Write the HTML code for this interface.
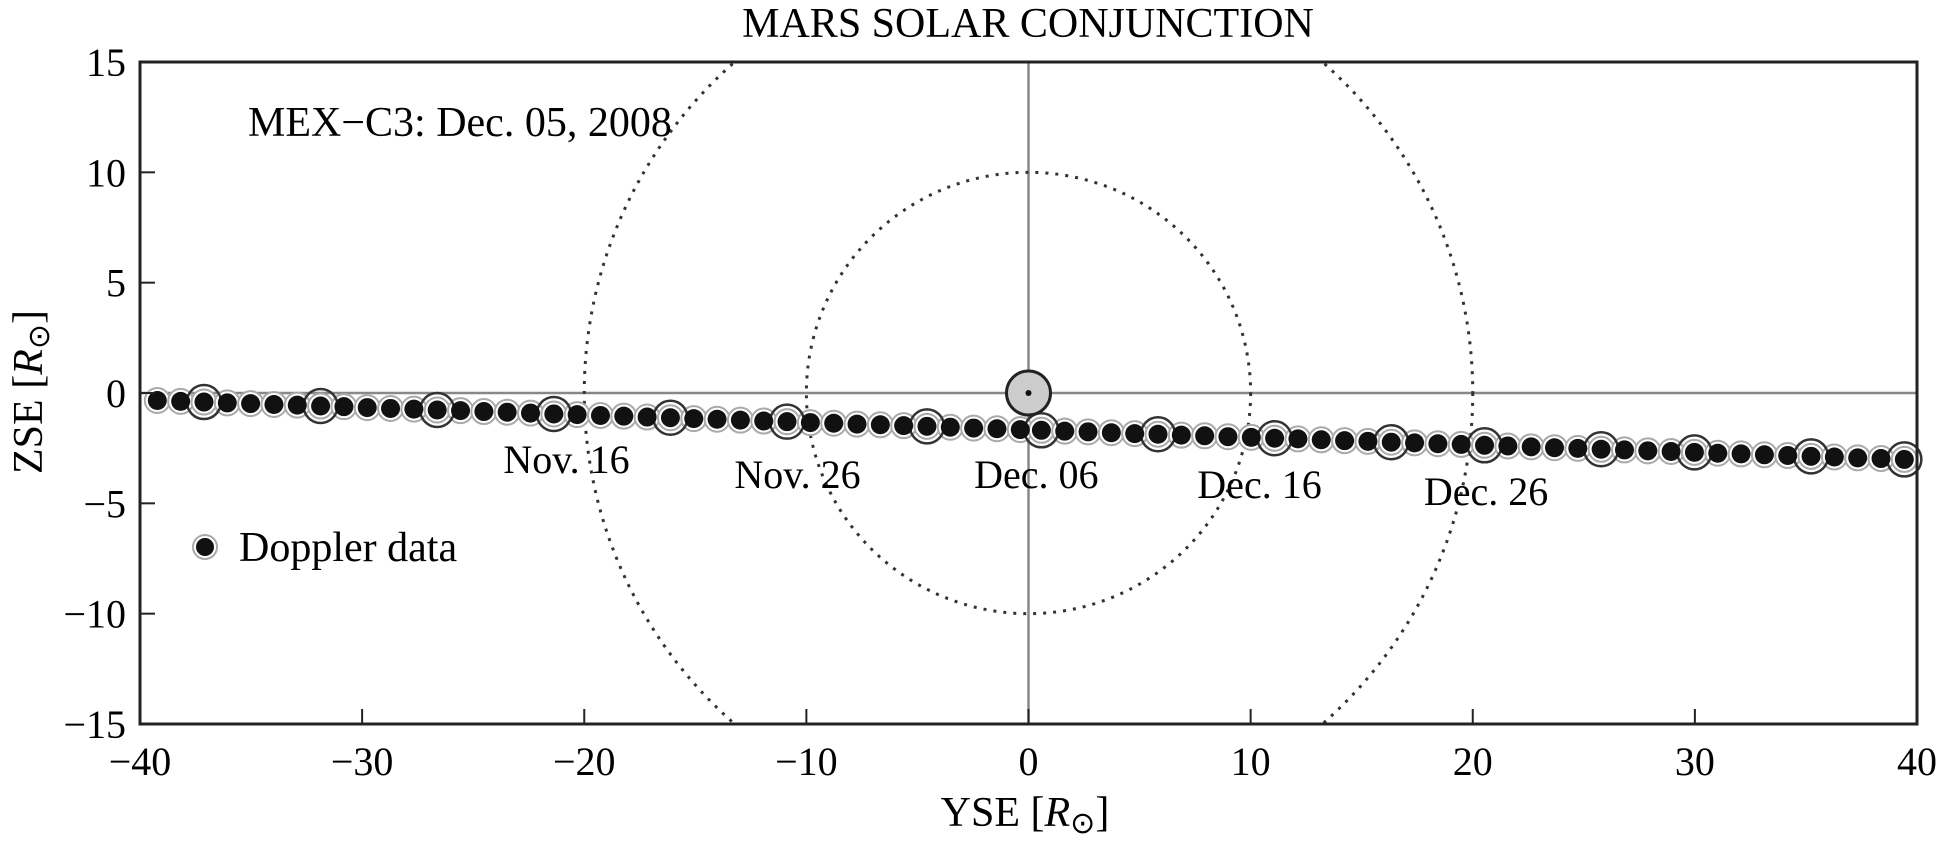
<!DOCTYPE html>
<html><head><meta charset="utf-8"><style>
html,body{margin:0;padding:0;background:#fff}
svg{display:block;font-family:"Liberation Serif",serif}
</style></head><body>
<svg id="chart" width="1941" height="847" viewBox="0 0 1941 847">
<text x="1028" y="37" font-size="42" text-anchor="middle">MARS SOLAR CONJUNCTION</text>
<g id="grid"></g>
<g id="circles"></g>
<g id="pts"></g>
<g id="axes"></g>
<text x="248" y="136" font-size="42">MEX−C3: Dec. 05, 2008</text>
<g id="dates" font-size="40" text-anchor="middle"></g>
<g>
<circle cx="205" cy="547" r="12" fill="none" stroke="#aaa" stroke-width="2"/>
<circle cx="205" cy="547" r="9" fill="#111"/>
<text x="239" y="561" font-size="42">Doppler data</text>
</g>
<text transform="translate(42,392) rotate(-90)" font-size="42" text-anchor="middle">ZSE [<tspan font-style="italic">R</tspan><tspan font-size="30" dy="7">⊙</tspan><tspan dy="-7">]</tspan></text>
<text x="1025" y="826" font-size="42" text-anchor="middle">YSE [<tspan font-style="italic">R</tspan><tspan font-size="30" dy="7">⊙</tspan><tspan dy="-7">]</tspan></text>
</svg>
<script>
const xs=[-39.22,-38.17,-37.12,-36.07,-35.02,-33.97,-32.92,-31.87,-30.82,-29.77,-28.72,-27.67,-26.62,-25.57,-24.52,-23.47,-22.42,-21.37,-20.32,-19.27,-18.22,-17.17,-16.12,-15.07,-14.02,-12.97,-11.92,-10.87,-9.82,-8.77,-7.72,-6.67,-5.62,-4.57,-3.52,-2.47,-1.42,-0.37,0.58,1.63,2.68,3.73,4.78,5.83,6.88,7.93,8.98,10.03,11.08,12.13,13.18,14.23,15.28,16.33,17.38,18.43,19.48,20.53,21.58,22.63,23.68,24.73,25.78,26.83,27.88,28.93,29.98,31.03,32.08,33.13,34.18,35.23,36.28,37.33,38.38,39.43];
const zs=[-0.34,-0.38,-0.41,-0.45,-0.48,-0.52,-0.55,-0.59,-0.62,-0.66,-0.70,-0.73,-0.77,-0.80,-0.84,-0.87,-0.91,-0.95,-0.98,-1.02,-1.05,-1.09,-1.12,-1.16,-1.19,-1.23,-1.27,-1.30,-1.34,-1.37,-1.41,-1.44,-1.48,-1.51,-1.55,-1.59,-1.62,-1.66,-1.69,-1.73,-1.76,-1.80,-1.84,-1.87,-1.91,-1.94,-1.98,-2.01,-2.05,-2.08,-2.12,-2.16,-2.19,-2.23,-2.26,-2.30,-2.33,-2.37,-2.40,-2.44,-2.48,-2.51,-2.55,-2.58,-2.62,-2.65,-2.69,-2.73,-2.76,-2.80,-2.83,-2.87,-2.90,-2.94,-2.97,-3.01];
const ringIdx=[2,7,12,17,22,27,33,38,43,48,53,57,62,66,71,75];
const xTicks=[-40,-30,-20,-10,0,10,20,30,40];
const yTicks=[15,10,5,0,-5,-10,-15];
const radii=[10,20];
const dateLabels=["Nov. 16","Nov. 26","Dec. 06","Dec. 16","Dec. 26"];
const dateX=[-20.8,-10.4,0.35,10.4,20.6];
const dateZ=[-3.62,-4.3,-4.3,-4.76,-5.08];
const NS='http://www.w3.org/2000/svg';
const L=140,R=1917,T=62,B=724;
const sx=v=>L+(v+40)/80*(R-L);
const sy=v=>393-v*(B-T)/30;
function mk(tag,at,parent){const e=document.createElementNS(NS,tag);for(const k in at)e.setAttribute(k,at[k]);parent.appendChild(e);return e;}
const grid=document.getElementById('grid'),circ=document.getElementById('circles'),pts=document.getElementById('pts'),axes=document.getElementById('axes'),dates=document.getElementById('dates');
let e=mk('line',{x1:L,x2:R,y1:sy(0),y2:sy(0),stroke:'#888','stroke-width':2.5},grid);


e=mk('line',{x1:sx(0),x2:sx(0),y1:T,y2:B,stroke:'#888','stroke-width':2.5},grid);


const cp=mk('clipPath',{id:'cp'},circ);mk('rect',{x:L,y:T,width:R-L,height:B-T},cp);
radii.forEach(r=>{
 const c=mk('ellipse',{cx:sx(0),cy:sy(0),rx:sx(r)-sx(0),ry:sy(0)-sy(r),fill:'none',stroke:'#333','stroke-width':3,'stroke-dasharray':'3 7','clip-path':'url(#cp)'},circ);
 
 
});
mk('polyline',{points:xs.map((x,i)=>sx(x)+','+sy(zs[i])).join(' '),fill:'none',stroke:'#555','stroke-width':2},pts);
xs.forEach((x,i)=>{
 const g=mk('circle',{cx:sx(x),cy:sy(zs[i]),r:12.5,fill:'#fff',stroke:'#aaa','stroke-width':2},pts);
 
 
});
ringIdx.forEach(i=>{
 const g=mk('circle',{cx:sx(xs[i]),cy:sy(zs[i]),r:17,fill:'none',stroke:'#333','stroke-width':2.5},pts);
 
 
});
xs.forEach((x,i)=>{
 const d=mk('circle',{cx:sx(x),cy:sy(zs[i]),r:9.5,fill:'#111'},pts);
 
 
});
e=mk('circle',{cx:sx(0),cy:sy(0),r:22,fill:'#ccc',stroke:'#222','stroke-width':3},pts);


mk('circle',{cx:sx(0),cy:sy(0),r:3,fill:'#111'},pts);
e=mk('rect',{x:L,y:T,width:R-L,height:B-T,fill:'none',stroke:'#222','stroke-width':3},axes);


xTicks.forEach(v=>{
 mk('line',{x1:sx(v),x2:sx(v),y1:B,y2:B-15,stroke:'#222','stroke-width':2},axes);
 const t=mk('text',{x:sx(v),y:775,'font-size':40,'text-anchor':'middle'},axes);
 t.textContent=(v<0?'−':'')+Math.abs(v);
 
 
});
yTicks.forEach(v=>{
 mk('line',{x1:L,x2:L+15,y1:sy(v),y2:sy(v),stroke:'#222','stroke-width':2},axes);
 const t=mk('text',{x:126,y:sy(v)+14,'font-size':40,'text-anchor':'end'},axes);
 t.textContent=(v<0?'−':'')+Math.abs(v);
 
 
});
dateLabels.forEach((s,i)=>{
 const t=mk('text',{x:sx(dateX[i]),y:sy(dateZ[i])},dates);
 t.textContent=s;
 
 
});
</script>
</body></html>
